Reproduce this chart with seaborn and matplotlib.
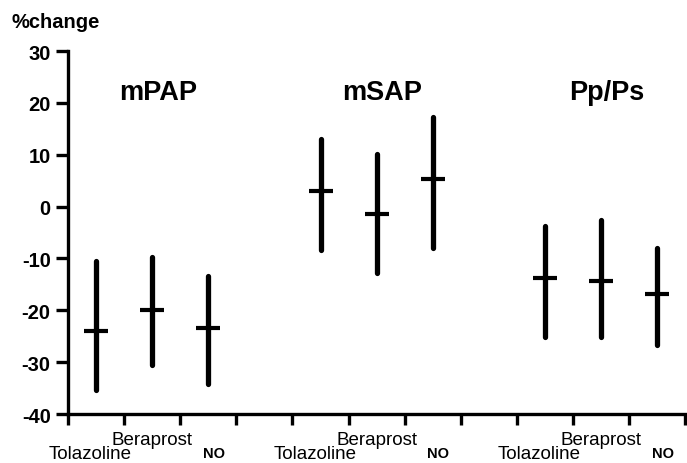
import numpy as np
import pandas as pd
import seaborn as sns
import matplotlib.pyplot as plt

GROUPS = ['mPAP', 'mSAP', 'Pp/Ps']
DRUGS = ['Tolazoline', 'Beraprost', 'NO']

# mean, upper end, lower end of each bar (% change)
MEAN = {'mPAP': [-23.9, -20.0, -23.4],
        'mSAP': [3.0, -1.4, 5.4],
        'Pp/Ps': [-13.7, -14.4, -16.9]}
HIGH = {'mPAP': [-10.4, -9.8, -13.4],
        'mSAP': [13.1, 10.1, 17.3],
        'Pp/Ps': [-3.8, -2.5, -7.9]}
LOW = {'mPAP': [-35.4, -30.6, -34.2],
       'mSAP': [-8.4, -12.8, -7.9],
       'Pp/Ps': [-25.2, -25.1, -26.7]}

YTICKS = [-40, -30, -20, -10, 0, 10, 20, 30]

rows = []
for g, name in enumerate(GROUPS):
    for i, drug in enumerate(DRUGS):
        rows.append({'group': name, 'drug': drug, 'x': 4 * g + 0.5 + i,
                     'mean': MEAN[name][i], 'high': HIGH[name][i], 'low': LOW[name][i]})
df = pd.DataFrame(rows)
df['id'] = np.arange(len(df))

# long table for the vertical range lines
rng = pd.concat([df[['id', 'x']].assign(value=df['low']),
                 df[['id', 'x']].assign(value=df['high'])])

sns.set_theme(style='white')
plt.rcParams['font.family'] = ['Liberation Sans', 'DejaVu Sans']
plt.rcParams['text.color'] = 'black'
plt.rcParams['xtick.color'] = 'black'
plt.rcParams['ytick.color'] = 'black'

fig = plt.figure(figsize=(6.87, 4.64), dpi=100)
ax = fig.add_axes([0.099, 0.1056, 0.901, 0.782])

sns.lineplot(data=rng, x='x', y='value', units='id', estimator=None, sort=False,
             color='black', lw=3.8, ax=ax, legend=False)
sns.scatterplot(data=df, x='x', y='mean', marker='_', s=290, color='black',
                linewidth=3.0, ax=ax, legend=False, zorder=3)

ax.set_xlim(0, 11.03)
ax.set_ylim(-40, 30)
ax.set_yticks(YTICKS)
ax.set_yticklabels([str(t) for t in YTICKS], fontsize=14.5, fontweight='bold', color='black')
ax.set_xticks(np.arange(12))
ax.set_xticklabels([])
ax.set_xlabel('')
ax.set_ylabel('')

for side in ['top', 'right']:
    ax.spines[side].set_visible(False)
for side in ['left', 'bottom']:
    ax.spines[side].set_linewidth(2.4)
    ax.spines[side].set_color('black')
ax.tick_params(axis='y', direction='out', length=9, width=2.4, pad=3.5, colors='black', left=True)
ax.tick_params(axis='x', direction='out', length=8, width=2.4, colors='black', bottom=True)

for g, name in enumerate(GROUPS):
    ax.text(4 * g + 1.6, 22.1, name, ha='center', va='center',
            fontsize=19.5, fontweight='bold', color='black')

tr = ax.get_xaxis_transform()
for _, r in df.iterrows():
    if r['drug'] == 'Tolazoline':
        ax.text(r['x'] - 0.1, -0.131, r['drug'], transform=tr, ha='center',
                va='bottom', fontsize=13.5, color='black', clip_on=False)
    elif r['drug'] == 'Beraprost':
        ax.text(r['x'], -0.083, r['drug'], transform=tr, ha='center',
                va='baseline', fontsize=13.5, color='black', clip_on=False)
    else:
        ax.text(r['x'] + 0.1, -0.118, r['drug'], transform=tr, ha='center',
                va='baseline', fontsize=10.5, fontweight='bold', color='black',
                clip_on=False)

fig.text(12 / 687, 1 - 22 / 464, '%change', ha='left', va='center',
         fontsize=14.5, fontweight='bold', color='black')

fig.savefig('out.png', dpi=100)
